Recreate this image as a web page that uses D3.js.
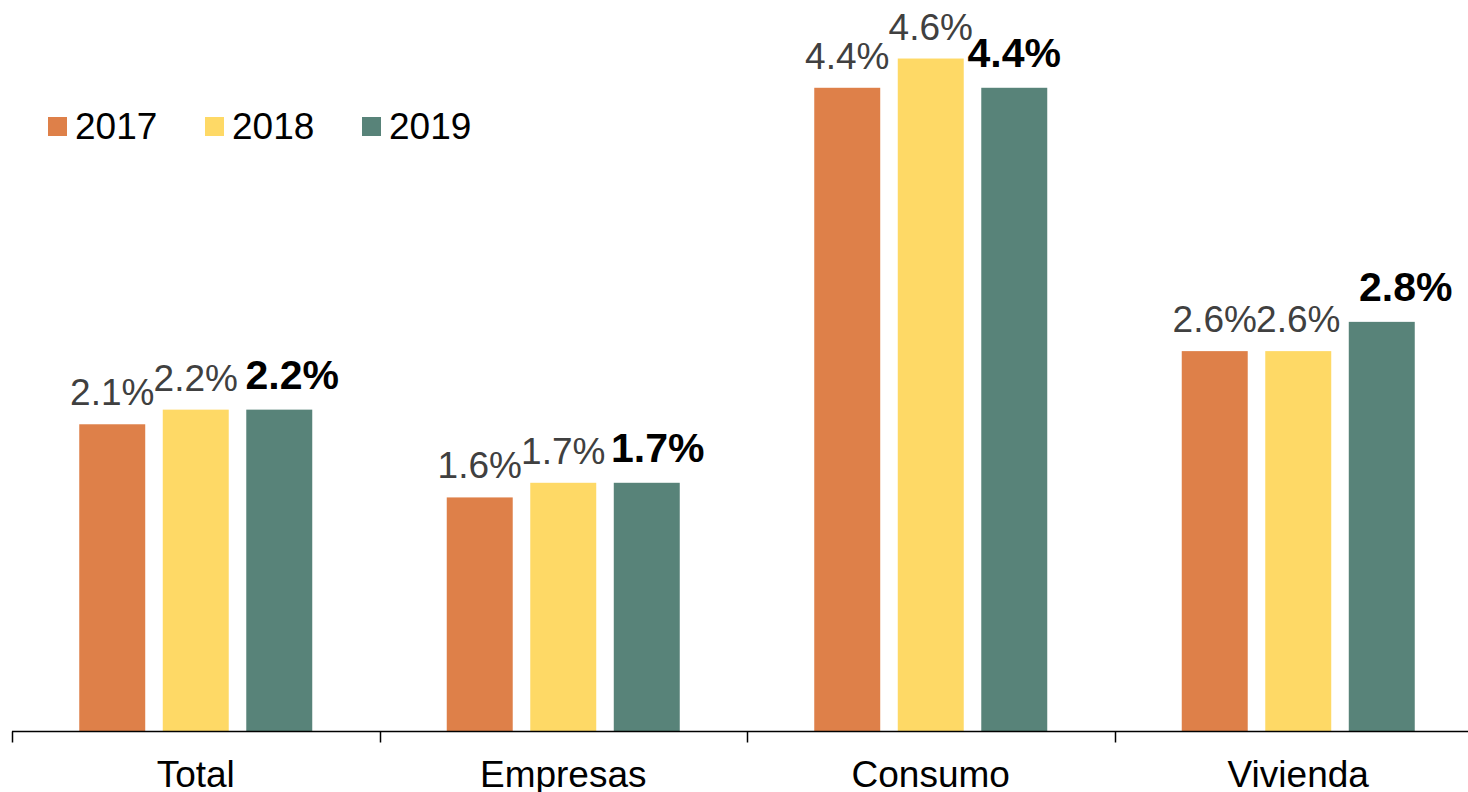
<!DOCTYPE html>
<html>
<head>
<meta charset="utf-8">
<script src="https://cdn.jsdelivr.net/npm/d3@7"></script>
<style>
html,body{margin:0;padding:0;background:#fff;}
svg{display:block;font-family:"Liberation Sans",Arial,sans-serif;}
</style>
</head>
<body>
<svg id="chart" width="1468" height="792"></svg>
<script>
const categories = ["Total", "Empresas", "Consumo", "Vivienda"];
const seriesNames = ["2017", "2018", "2019"];
const values2017 = [2.1, 1.6, 4.4, 2.6];
const values2018 = [2.2, 1.7, 4.6, 2.6];
const values2019 = [2.2, 1.7, 4.4, 2.8];
const colors = ["#DE8049", "#FED966", "#588379"];

const seriesValues = [values2017, values2018, values2019];
const svg = d3.select("#chart");
const baseY = 731.5;

const x = d3.scaleBand().domain(categories).range([12, 1482]).paddingInner(0).paddingOuter(0);
const xs = d3.scaleBand().domain(seriesNames).range([0, 233]).paddingInner(0.21);
const y = d3.scaleLinear().domain([0, 5]).range([baseY, 0]);
const groupOffset = (x.bandwidth() - 233) / 2;

// bars
const data = [];
categories.forEach((c, i) => {
  seriesNames.forEach((s, j) => {
    data.push({cat: c, ser: s, j: j, v: seriesValues[j][i]});
  });
});

svg.append("g").selectAll("rect").data(data).join("rect")
  .attr("x", d => x(d.cat) + groupOffset + xs(d.ser))
  .attr("y", d => y(d.v))
  .attr("width", xs.bandwidth())
  .attr("height", d => baseY - y(d.v))
  .attr("fill", d => colors[d.j]);

// labels
const boldShift = {"Total": 13, "Empresas": 11, "Consumo": 0, "Vivienda": 24};
svg.append("g").selectAll("text").data(data).join("text")
  .attr("x", d => x(d.cat) + groupOffset + xs(d.ser) + xs.bandwidth() / 2 + (d.j === 2 ? boldShift[d.cat] : 0))
  .attr("y", d => y(d.v) - (d.j === 2 ? 21 : 19))
  .attr("text-anchor", "middle")
  .attr("font-size", d => d.j === 2 ? 41 : 37)
  .attr("font-weight", d => d.j === 2 ? "bold" : "normal")
  .attr("fill", d => d.j === 2 ? "#000" : "#404040")
  .text(d => d.v.toFixed(1) + "%");

// axis
const axisG = svg.append("g");
axisG.append("line")
  .attr("x1", x.range()[0]).attr("x2", x.range()[1])
  .attr("y1", baseY).attr("y2", baseY)
  .attr("stroke", "#000").attr("stroke-width", 1.5);
axisG.selectAll("line.tick").data(categories).join("line")
  .attr("class", "tick")
  .attr("x1", d => Math.round(x(d)) + 0.5).attr("x2", d => Math.round(x(d)) + 0.5)
  .attr("y1", baseY).attr("y2", baseY + 11)
  .attr("stroke", "#000").attr("stroke-width", 1.5);
axisG.selectAll("text").data(categories).join("text")
  .attr("x", d => x(d) + x.bandwidth() / 2)
  .attr("y", 787)
  .attr("text-anchor", "middle")
  .attr("font-size", 37)
  .attr("fill", "#000")
  .text(d => d);

// legend
const leg = svg.append("g").selectAll("g").data(seriesNames).join("g")
  .attr("transform", (d, i) => `translate(${48 + i * 157},0)`);
leg.append("rect").attr("x", 0).attr("y", 117).attr("width", 19).attr("height", 19)
  .attr("fill", (d, i) => colors[i]);
leg.append("text").attr("x", 27).attr("y", 139).attr("font-size", 37).attr("fill", "#000")
  .text(d => d);
</script>
</body>
</html>
